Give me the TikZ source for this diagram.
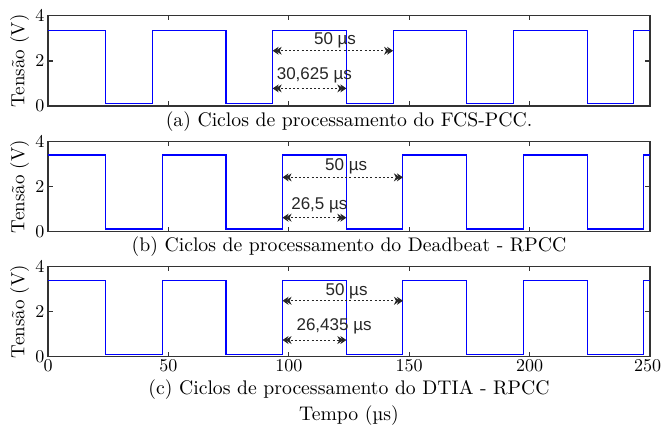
\documentclass[tikz,border=0pt]{standalone}
\usepackage{fontspec}
\setmainfont{lmroman10-regular}[Extension=.otf]
\newfontfamily\annfont{Liberation Sans}
\usetikzlibrary{arrows.meta}

% one pulse train: high level, low level, rising instant inside each 50 us period
\newcommand\pulsetrain[3]{%
  \draw[wave] (0,#1) foreach \k in {0,...,4} {
    -- ({23.9+50*\k},#1) -- ({23.9+50*\k},#2) -- ({#3+50*\k},#2) -- ({#3+50*\k},#1)
  } -- (250,#1);}

% axes box with inward ticks
\newcommand\axesbox{%
  \draw[axisline] (0,0) rectangle (250,4);
  \foreach \t in {50,100,150,200} {
    \draw[axisline] (\t,0) -- ++(0,0.2);
    \draw[axisline] (\t,4) -- ++(0,-0.2);
  }
  \draw[axisline] (0,2) -- ++(2,0);
  \draw[axisline] (250,2) -- ++(-2,0);
  \foreach \v in {0,2,4} \node[ylab] at (0,\v) {\v};
  \node[ylabel] at (-11.8,2) {Tensão (V)};}

\tikzset{
  ticksize/.style={font=\fontsize{18}{21}\selectfont},
  mainsize/.style={font=\fontsize{19.7}{23}\selectfont},
  axisline/.style={draw=black!80, line width=1.3pt},
  wave/.style={draw=blue, line width=1.1pt, line join=miter},
  ylab/.style={anchor=east, inner sep=3.5pt, ticksize},
  xlab/.style={anchor=north, inner sep=3pt, ticksize},
  ylabel/.style={rotate=90, font=\fontsize{19}{22}\selectfont},
  caption/.style={anchor=base, mainsize},
  ann/.style={font=\annfont\fontsize{17}{19}\selectfont, text=black!85, inner sep=0pt},
  dimtip/.tip={Stealth[length=6pt,width=8pt,sep=-3pt]Stealth[length=6pt,width=8pt]},
  dimarrow/.style={draw=black!85, line width=0.8pt, dash pattern=on 2pt off 2.2pt,
    dimtip-dimtip}
}

\begin{document}
\begin{tikzpicture}[x=1pt,y=-1pt]
\useasboundingbox (0,0) rectangle (661,427);

% ---- (a) FCS-PCC
\begin{scope}[shift={(48,106)}, x=2.408pt, y=22.55pt]
  \axesbox
  \pulsetrain{3.36}{0.1}{43.3}
  \coordinate (a1s) at (93.3,2.45);  \coordinate (a1e) at (143.3,2.45);
  \coordinate (a2s) at (93.3,0.78);  \coordinate (a2e) at (123.9,0.78);
  \draw[dimarrow] (a1s) -- (a1e);
  \draw[dimarrow] (a2s) -- (a2e);
  \node[ann] (a1t) at (119.2,2.93) {50 µs};
  \node[ann] (a2t) at (110.6,1.37) {30,625 µs};
\end{scope}
\node[caption] (capa) at (349,126.5) {(a) Ciclos de processamento do FCS-PCC.};

% ---- (b) Deadbeat - RPCC
\begin{scope}[shift={(48,231.7)}, x=2.408pt, y=22.55pt]
  \axesbox
  \pulsetrain{3.4}{0.12}{47.4}
  \coordinate (b1s) at (97.4,2.41);  \coordinate (b1e) at (147.4,2.41);
  \coordinate (b2s) at (97.4,0.62);  \coordinate (b2e) at (123.9,0.62);
  \draw[dimarrow] (b1s) -- (b1e);
  \draw[dimarrow] (b2s) -- (b2e);
  \node[ann] (b1t) at (123.8,2.91) {50 µs};
  \node[ann] (b2t) at (112.7,1.18) {26,5 µs};
\end{scope}
\node[caption] (capb) at (349,251.5) {(b) Ciclos de processamento do Deadbeat - RPCC};

% ---- (c) DTIA - RPCC
\begin{scope}[shift={(48,356.7)}, x=2.408pt, y=22.55pt]
  \axesbox
  \pulsetrain{3.36}{0.1}{47.4}
  \foreach \t in {0,50,...,200} \node[xlab] at (\t,0) {\t};
  \node[xlab] at (249,0) {250};
  \coordinate (c1s) at (97.4,2.48);  \coordinate (c1e) at (147.4,2.48);
  \coordinate (c2s) at (97.4,0.74);  \coordinate (c2e) at (123.9,0.74);
  \draw[dimarrow] (c1s) -- (c1e);
  \draw[dimarrow] (c2s) -- (c2e);
  \node[ann] (c1t) at (124,2.91) {50 µs};
  \node[ann] (c2t) at (118.8,1.36) {26,435 µs};
\end{scope}
\node[caption] (capc) at (349,394) {(c) Ciclos de processamento do DTIA - RPCC};
\node[caption] (xlabel) at (349,420) {Tempo (µs)};
\end{tikzpicture}
\end{document}
